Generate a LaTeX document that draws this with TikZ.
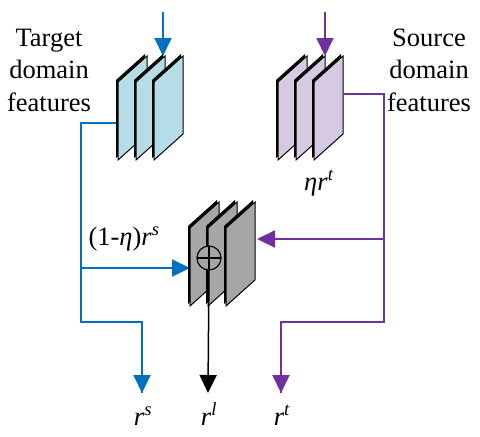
\documentclass[tikz,border=0pt]{standalone}
\usepackage{fontspec}
\setmainfont{Liberation Serif}
\usepackage{tikz}
\usetikzlibrary{arrows.meta,positioning,calc}

\definecolor{tgtblue}{RGB}{0,112,192}
\definecolor{srcpurple}{RGB}{112,48,160}
\definecolor{tgtfill}{RGB}{182,221,231}
\definecolor{srcfill}{RGB}{213,202,226}
\definecolor{mixfill}{RGB}{166,166,166}

% one feature plate: x of left edge, y of top-left corner, fill
\newcommand{\featplate}[3]{%
	\fill[black] (#1-2,#2-2) -- ++(29,-26) -- ++(0,78) -- ++(-29,26) -- cycle;
	\draw[plate, fill=#3] (#1,#2) -- ++(29,-26) -- ++(0,78) -- ++(-29,26) -- cycle;
}

\begin{document}
\begin{tikzpicture}[
			x=1pt, y=-1pt,
			plate/.style={draw=black, line width=1pt, line join=miter},
			lbl/.style={font=\fontsize{26.5}{32.5}\selectfont, align=center, inner sep=0pt},
			arr/.style={-{Triangle[length=18pt,width=17pt]}, line width=2pt},
			wire/.style={line width=2pt}
			]
			\useasboundingbox (0,0) rectangle (480,437);
			
			\node[lbl] (tgtlabel) at (49,70) {Target\\domain\\features};
			\node[lbl] (srclabel) at (429,70) {Source\\domain\\features};
			
			% end points of the connectors
			\coordinate (tgtin) at (163,12);
			\coordinate (tgttip) at (163,56);
			\coordinate (srcin) at (325,12);
			\coordinate (srctip) at (325,56);
			\coordinate (tgtout) at (118,123);
			\coordinate (srcout) at (344,94);
			\coordinate (tgtbend) at (81,123);
			\coordinate (srcbend) at (384,94);
			\coordinate (mixleft) at (190,268);
			\coordinate (mixright) at (257,239);
			\coordinate (oplus) at (209,258);
			\coordinate (rstip) at (142,393);
			\coordinate (rltip) at (208,393);
			\coordinate (rttip) at (281,393);
			
			\draw[arr, tgtblue] (tgtin) -- (tgttip);
			\draw[arr, srcpurple] (srcin) -- (srctip);
			
			\draw[wire, tgtblue] (tgtout) -- (tgtbend) -- (tgtbend |- 0,322) -| (rstip);
			\draw[arr, tgtblue] (rstip |- 0,360) -- (rstip);
			\draw[arr, tgtblue] (tgtbend |- mixleft) -- (mixleft);
			
			\draw[wire, srcpurple] (srcout) -- (srcbend) -- (srcbend |- 0,322) -| (rttip);
			\draw[arr, srcpurple] (rttip |- 0,360) -- (rttip);
			\draw[arr, srcpurple] (srcbend |- mixright) -- (mixright);
			
			\foreach \px in {118,136,154} {\featplate{\px}{82}{tgtfill}}
			\foreach \px in {278,296,314} {\featplate{\px}{82}{srcfill}}
			
			\featplate{190}{228}{mixfill}
			\featplate{208}{228}{mixfill}
			\draw[line width=1.2pt, fill=mixfill] (oplus) circle (12);
			\draw[line width=1.2pt] ($(oplus)+(-12,0)$) -- ($(oplus)+(12,0)$)
				($(oplus)+(0,-12)$) -- ($(oplus)+(0,12)$);
			\draw[arr, black, line width=1.5pt] ($(oplus)+(0,12)$) -- (rltip);
			\featplate{226}{228}{mixfill}
			
			\node[lbl, anchor=base] (mixlabel) at (124,245) {(1-\textit{η})\textit{r}\textsuperscript{\textit{s}}};
			\node[lbl, anchor=base] (etalabel) at (319,190) {\textit{ηr}\textsuperscript{\textit{t}}};
			
			\node[lbl, anchor=base] (rs) at (143,425) {\textit{r}\textsuperscript{\textit{s}}};
			\node[lbl, anchor=base] (rl) at (209,425) {\textit{r}\textsuperscript{\textit{l}}};
			\node[lbl, anchor=base] (rt) at (282,425) {\textit{r}\textsuperscript{\textit{t}}};
		\end{tikzpicture}
\end{document}
